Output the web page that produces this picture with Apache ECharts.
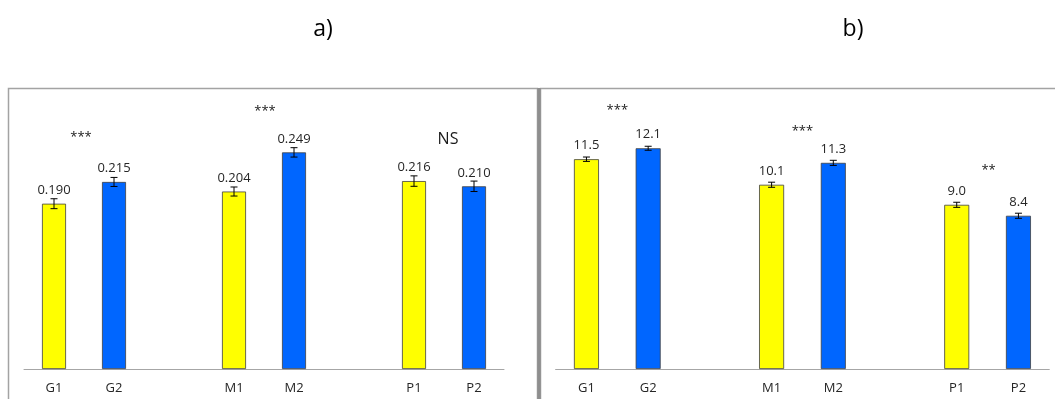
<!DOCTYPE html>
<html>
<head>
<meta charset="utf-8">
<script src="https://cdn.jsdelivr.net/npm/echarts@6/dist/echarts.min.js"></script>
<style>
  html, body { margin: 0; padding: 0; background: #ffffff; }
  #chart { width: 1055px; height: 399px; }
</style>
</head>
<body>
<div id="chart"></div>
<script>
// Group labels (one pair per group) and their bar labels
const groups = ['G', 'M', 'P'];
const barLabels = ['G1', 'G2', 'M1', 'M2', 'P1', 'P2'];

// Panel a) means and error half-widths
const meansA = [0.190, 0.215, 0.204, 0.249, 0.216, 0.210];
const errorsA = [0.0057, 0.0052, 0.0052, 0.0054, 0.0060, 0.0060];
const signifA = ['***', '***', 'NS'];

// Panel b) means and error half-widths
const meansB = [11.5, 12.1, 10.1, 11.3, 9.0, 8.4];
const errorsB = [0.12, 0.11, 0.14, 0.14, 0.14, 0.14];
const signifB = ['***', '***', '**'];

// Panel titles
const panelTitles = ['a)', 'b)'];

// Placement of each group's significance mark: height in value units,
// plus a small horizontal nudge in pixels
const signifHeightA = [0.266, 0.296, 0.264];
const signifShiftA = [-3, 1, 4];
const signifHeightB = [14.2, 13.05, 10.9];
const signifShiftB = [0, 0, 1];

const YELLOW = '#ffff00';
const BLUE = '#0066ff';
const FONT = '"Open Sans", "Noto Sans", sans-serif';

// Category axis: each group is a pair of bars followed by an empty slot
const categories = [];
const slotOfBar = [];
groups.forEach((g, gi) => {
  categories.push(barLabels[gi * 2]);
  slotOfBar.push(categories.length - 1);
  categories.push(barLabels[gi * 2 + 1]);
  slotOfBar.push(categories.length - 1);
  if (gi < groups.length - 1) categories.push('');
});

function barData(means) {
  const arr = categories.map(() => null);
  means.forEach((v, i) => {
    arr[slotOfBar[i]] = {
      value: v,
      itemStyle: { color: i % 2 === 0 ? YELLOW : BLUE }
    };
  });
  return arr;
}

function errorData(means, errs) {
  return means.map((v, i) => [slotOfBar[i], v, errs[i]]);
}

// one mark per group, centred between the group's two bars
function signifData(labels, heights, shifts) {
  return labels.map((t, gi) => [
    slotOfBar[gi * 2], slotOfBar[gi * 2 + 1], heights[gi], t, shifts[gi]
  ]);
}

function renderError(params, api) {
  const x = api.value(0);
  const m = api.value(1);
  const e = api.value(2);
  const hi = api.coord([x, m + e]);
  const lo = api.coord([x, m - e]);
  const cap = 3.5;
  const style = { stroke: '#000000', lineWidth: 1 };
  return {
    type: 'group',
    children: [
      { type: 'line', shape: { x1: hi[0], y1: hi[1], x2: lo[0], y2: lo[1] }, style },
      { type: 'line', shape: { x1: hi[0] - cap, y1: hi[1], x2: hi[0] + cap, y2: hi[1] }, style },
      { type: 'line', shape: { x1: lo[0] - cap, y1: lo[1], x2: lo[0] + cap, y2: lo[1] }, style }
    ]
  };
}

function renderSignif(params, api) {
  const a = api.coord([api.value(0), api.value(2)]);
  const b = api.coord([api.value(1), api.value(2)]);
  const text = api.value(3);
  const isWord = /[A-Za-z]/.test(text);
  return {
    type: 'text',
    x: (a[0] + b[0]) / 2 + api.value(4),
    y: a[1],
    style: {
      text: text,
      fill: '#1a1a1a',
      font: (isWord ? '16px ' : '13px ') + FONT,
      align: 'center',
      verticalAlign: 'middle'
    }
  };
}

function barSeries(idx, means, fmt, width) {
  return {
    type: 'bar',
    xAxisIndex: idx,
    yAxisIndex: idx,
    barWidth: width,
    data: barData(means),
    itemStyle: { borderColor: '#404040', borderWidth: 0.8 },
    label: {
      show: true,
      position: 'top',
      distance: 7,
      formatter: (p) => p.value == null ? '' : fmt(p.value),
      color: '#262626',
      fontFamily: FONT,
      fontSize: 13
    },
    silent: true,
    z: 2
  };
}

const xAxisCommon = {
  type: 'category',
  data: categories,
  axisLine: { lineStyle: { color: '#a6a6a6', width: 1 } },
  axisTick: { show: false },
  axisLabel: { color: '#262626', fontFamily: FONT, fontSize: 13, margin: 13, interval: 0 },
  splitLine: { show: false }
};

const yAxisCommon = {
  type: 'value',
  min: 0,
  show: false,
  splitLine: { show: false }
};

const chart = echarts.init(document.getElementById('chart'), null, { renderer: 'canvas' });

chart.setOption({
  animation: false,
  backgroundColor: '#ffffff',
  grid: [
    { left: 24, top: 108, width: 480, height: 261 },
    { left: 555.6, top: 113.6, width: 493.7, height: 255.4 }
  ],
  xAxis: [
    Object.assign({ gridIndex: 0 }, xAxisCommon),
    Object.assign({ gridIndex: 1 }, xAxisCommon)
  ],
  yAxis: [
    Object.assign({ gridIndex: 0, max: 0.3 }, yAxisCommon),
    Object.assign({ gridIndex: 1, max: 14 }, yAxisCommon)
  ],
  graphic: [
    // panel frames
    { type: 'rect', z: 0, silent: true,
      shape: { x: 8.5, y: 88.5, width: 529, height: 330 },
      style: { fill: 'none', stroke: '#a3a3a3', lineWidth: 1.5 } },
    { type: 'rect', z: 0, silent: true,
      shape: { x: 540.5, y: 88.5, width: 530, height: 330 },
      style: { fill: 'none', stroke: '#a3a3a3', lineWidth: 1.5 } },
    { type: 'rect', z: 1, silent: true,
      shape: { x: 537.3, y: 88, width: 3.4, height: 320 },
      style: { fill: '#8e8e8e' } },
    // panel titles
    { type: 'text', silent: true, x: 323, y: 29,
      style: { text: panelTitles[0], font: '23px ' + FONT, fill: '#000000', align: 'center', verticalAlign: 'middle' } },
    { type: 'text', silent: true, x: 853, y: 29,
      style: { text: panelTitles[1], font: '23px ' + FONT, fill: '#000000', align: 'center', verticalAlign: 'middle' } }
  ],
  series: [
    barSeries(0, meansA, (v) => v.toFixed(3), 24),
    barSeries(1, meansB, (v) => v.toFixed(1), 25),
    { type: 'custom', xAxisIndex: 0, yAxisIndex: 0, renderItem: renderError,
      data: errorData(meansA, errorsA), z: 3, silent: true },
    { type: 'custom', xAxisIndex: 1, yAxisIndex: 1, renderItem: renderError,
      data: errorData(meansB, errorsB), z: 3, silent: true },
    { type: 'custom', xAxisIndex: 0, yAxisIndex: 0, renderItem: renderSignif,
      data: signifData(signifA, signifHeightA, signifShiftA), z: 3, silent: true, clip: false },
    { type: 'custom', xAxisIndex: 1, yAxisIndex: 1, renderItem: renderSignif,
      data: signifData(signifB, signifHeightB, signifShiftB), z: 3, silent: true, clip: false }
  ]
});
</script>
</body>
</html>
